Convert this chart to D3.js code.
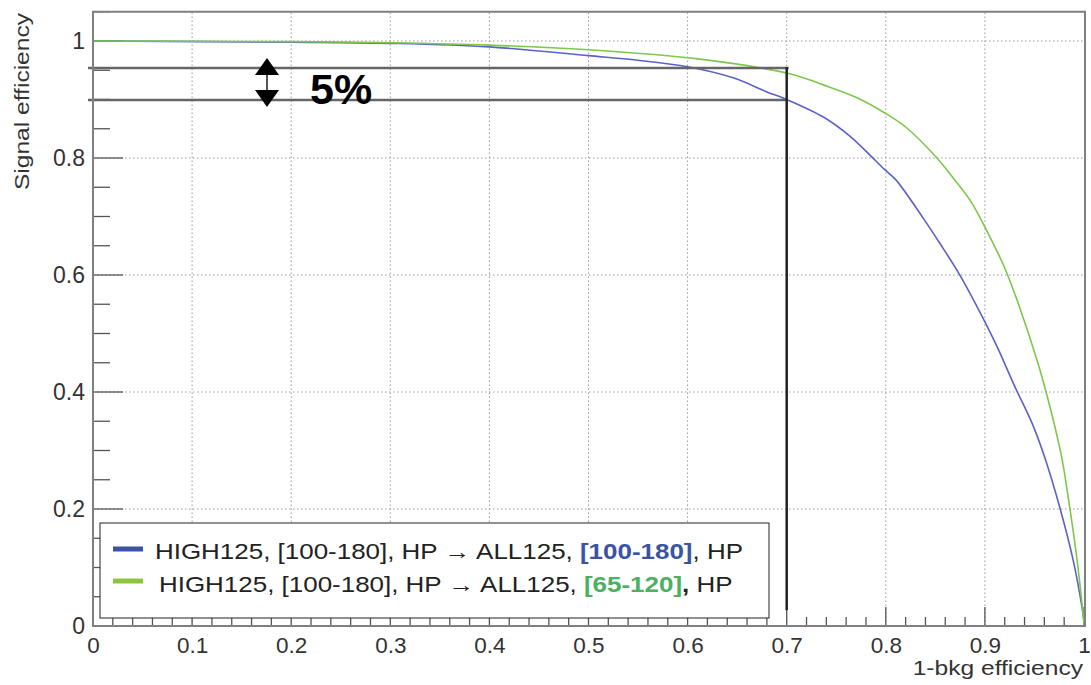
<!DOCTYPE html>
<html><head><meta charset="utf-8">
<script src="https://cdn.jsdelivr.net/npm/d3@7"></script>
<style>
body{margin:0;background:#fff;}
text{font-family:"Liberation Sans",Arial,sans-serif;}
</style></head>
<body><svg id="c" width="1091" height="685"></svg>
<script>
// ---- data ----
const blueX = [0,0.2,0.3,0.4,0.5,0.55,0.6,0.646,0.68,0.7,0.737,0.764,0.784,0.799,0.81,0.837,0.855,0.875,0.9,0.913,0.93,0.948,0.96,0.976,0.989,0.998,1];
const blueY = [1,0.998,0.996,0.99,0.975,0.967,0.956,0.937,0.913,0.9,0.87,0.837,0.805,0.78,0.763,0.699,0.653,0.599,0.52,0.475,0.41,0.345,0.29,0.2,0.113,0.032,0.008];
const greenX = [0,0.2,0.3,0.4,0.5,0.6125,0.703,0.737,0.771,0.799,0.82,0.85,0.868,0.885,0.9,0.92,0.935,0.953,0.963,0.971,0.978,0.986,0.993,0.999,1];
const greenY = [1,0.999,0.997,0.993,0.985,0.969,0.944,0.925,0.903,0.877,0.853,0.803,0.766,0.728,0.682,0.612,0.545,0.452,0.392,0.338,0.284,0.198,0.113,0.022,0.005];
const xTicks = [0,0.1,0.2,0.3,0.4,0.5,0.6,0.7,0.8,0.9,1];
const xTickLabels = ["0","0.1","0.2","0.3","0.4","0.5","0.6","0.7","0.8","0.9","1"];
const yTicks = [0,0.2,0.4,0.6,0.8,1];
const yTickLabels = ["0","0.2","0.4","0.6","0.8","1"];
const cutHigh = 0.954, cutLow = 0.899, cutX = 0.7;
const legendEntries = [
  {pre:"HIGH125, [100-180], HP \u2192 ALL125, ", bold:"[100-180]", boldPost:"", post:", HP"},
  {pre:"HIGH125, [100-180], HP \u2192 ALL125, ", bold:"[65-120]", boldPost:",", post:" HP"}
];

const svg = d3.select("#c");
const x = d3.scaleLinear().domain([0,1]).range([93,1084]);
const y = d3.scaleLinear().domain([0,1.05]).range([626,11.75]);

// grid
const g = svg.append("g");
g.selectAll("line.gx").data(xTicks.slice(1,-1)).join("line")
  .attr("x1",d=>x(d)).attr("x2",d=>x(d)).attr("y1",y(0)).attr("y2",y(1.05))
  .attr("stroke","#9a9a9a").attr("stroke-width",1).attr("stroke-dasharray","1.5,2.5");
g.selectAll("line.gy").data(yTicks.slice(1)).join("line")
  .attr("y1",d=>y(d)).attr("y2",d=>y(d)).attr("x1",x(0)).attr("x2",x(1))
  .attr("stroke","#9a9a9a").attr("stroke-width",1).attr("stroke-dasharray","1.5,2.5");

// tick marks
const xMinor = d3.range(0,51).map(i=>i/50);
svg.append("g").selectAll("line").data(xMinor).join("line")
  .attr("x1",d=>x(d)).attr("x2",d=>x(d)).attr("y1",y(0))
  .attr("y2",d=>y(0)-(Math.abs(d*10-Math.round(d*10))<1e-6?19:9))
  .attr("stroke","#555").attr("stroke-width",1.3);
const yMinor = d3.range(0,22).map(i=>i/20);
svg.append("g").selectAll("line").data(yMinor).join("line")
  .attr("y1",d=>y(d)).attr("y2",d=>y(d)).attr("x1",x(0))
  .attr("x2",d=>x(0)+(Math.abs(d*5-Math.round(d*5))<1e-6?30:17))
  .attr("stroke","#555").attr("stroke-width",1.3);

// tick labels via axes
const xa = svg.append("g").attr("transform",`translate(0,${y(0)})`)
  .call(d3.axisBottom(x).tickValues(xTicks).tickSize(0).tickPadding(11).tickFormat((d,i)=>xTickLabels[i]));
xa.select(".domain").remove();
xa.selectAll("text").attr("font-size",22.5).attr("fill","#333").attr("font-family","Liberation Sans, Arial, sans-serif");
const ya = svg.append("g").attr("transform",`translate(${x(0)},0)`)
  .call(d3.axisLeft(y).tickValues(yTicks).tickSize(0).tickPadding(8).tickFormat((d,i)=>yTickLabels[i]));
ya.select(".domain").remove();
ya.selectAll("text").attr("font-size",23).attr("fill","#333").attr("font-family","Liberation Sans, Arial, sans-serif");

// axis titles
svg.append("text").attr("transform",`translate(29,13) rotate(-90) scale(1.17,1)`).attr("text-anchor","end")
  .attr("font-size",21).attr("fill","#333").text("Signal efficiency");
svg.append("text").attr("transform",`translate(1083,675) scale(1.2,1)`).attr("text-anchor","end")
  .attr("font-size",20.5).attr("fill","#333").text("1-bkg efficiency");

// curves
const line = d3.line().x(d=>x(d[0])).y(d=>y(d[1])).curve(d3.curveCatmullRom.alpha(0.5));
svg.append("path").datum(blueX.map((v,i)=>[v,blueY[i]])).attr("d",line)
  .attr("fill","none").attr("stroke","#5b62c6").attr("stroke-width",1.6);
svg.append("path").datum(greenX.map((v,i)=>[v,greenY[i]])).attr("d",line)
  .attr("fill","none").attr("stroke","#7cc84a").attr("stroke-width",1.6);

// cut lines
svg.append("line").attr("x1",88).attr("x2",x(cutX)+2).attr("y1",y(cutHigh)).attr("y2",y(cutHigh))
  .attr("stroke","#666").attr("stroke-width",2.5);
svg.append("line").attr("x1",88).attr("x2",x(cutX)).attr("y1",y(cutLow)).attr("y2",y(cutLow))
  .attr("stroke","#666").attr("stroke-width",2.5);
svg.append("line").attr("x1",x(cutX)).attr("x2",x(cutX)).attr("y1",y(cutHigh)-1).attr("y2",y(0.027))
  .attr("stroke","#222").attr("stroke-width",2.5);

// double arrow
const ax = 267, aTop = y(cutHigh)-10, aBot = y(cutLow)+7;
svg.append("line").attr("x1",ax).attr("x2",ax).attr("y1",aTop+10).attr("y2",aBot-10).attr("stroke","#555").attr("stroke-width",2);
svg.append("path").attr("d",`M${ax},${aTop} L${ax-12},${aTop+17} L${ax+12},${aTop+17} Z`).attr("fill","#000");
svg.append("path").attr("d",`M${ax},${aBot} L${ax-12},${aBot-17} L${ax+12},${aBot-17} Z`).attr("fill","#000");
svg.append("text").attr("x",310).attr("y",104).attr("font-size",43).attr("font-weight","bold").attr("fill","#000").text("5%");

// frame
svg.append("rect").attr("x",x(0)).attr("y",y(1.05)).attr("width",x(1)-x(0)+1).attr("height",y(0)-y(1.05))
  .attr("fill","none").attr("stroke","#808080").attr("stroke-width",2);

// legend
svg.append("rect").attr("x",100).attr("y",523).attr("width",669).attr("height",95)
  .attr("fill","#fff").attr("stroke","#222").attr("stroke-width",1);
const lcol = ["#3a53a4","#8cc63e"], tcol=["#3a53a4","#4cb05f"];
const lineY = [549,581], baseY=[559,592], textX=[155,159];
legendEntries.forEach((e,i)=>{
  svg.append("line").attr("x1",113).attr("x2",143).attr("y1",lineY[i]).attr("y2",lineY[i]).attr("stroke",lcol[i]).attr("stroke-width",5);
  const t = svg.append("text").attr("transform",`translate(${textX[i]},${baseY[i]}) scale(1.18,1)`)
    .attr("font-size",22).attr("fill","#222").style("white-space","pre");
  t.append("tspan").text(e.pre);
  t.append("tspan").attr("font-weight","bold").attr("fill",tcol[i]).text(e.bold);
  if(e.boldPost) t.append("tspan").attr("font-weight","bold").text(e.boldPost);
  t.append("tspan").text(e.post);
});
</script></body></html>
